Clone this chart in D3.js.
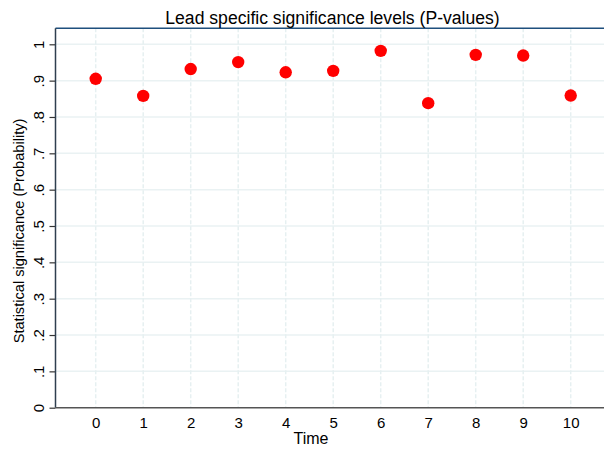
<!DOCTYPE html>
<html><head><meta charset="utf-8">
<script src="https://cdn.jsdelivr.net/npm/d3@7"></script>
<style>body{margin:0;background:#fff;}svg{display:block;font-family:"Liberation Sans",Arial,sans-serif;}</style>
</head><body>
<script>
const times = [0,1,2,3,4,5,6,7,8,9,10];
const pValues = [0.905,0.858,0.932,0.951,0.923,0.927,0.982,0.838,0.971,0.969,0.859];
const yTicks = [0,0.1,0.2,0.3,0.4,0.5,0.6,0.7,0.8,0.9,1];
const yTickLabels = ["0",".1",".2",".3",".4",".5",".6",".7",".8",".9","1"];
const xTickLabels = ["0","1","2","3","4","5","6","7","8","9","10"];
const title = "Lead specific significance levels (P-values)";
const xTitle = "Time";
const yTitle = "Statistical significance (Probability)";

(function(){
const W=604,H=449;
const svg=d3.select("body").append("svg").attr("width",W).attr("height",H);
const pL=55.5, pR=604, pT=28.3, pB=407.7;
const x=d3.scaleLinear().domain([0,10]).range([95.7,570.7]);
const y=d3.scaleLinear().domain([0,1]).range([pB,44.3]);

// gridlines
svg.append("g").selectAll("line").data(yTicks.filter(d=>d>0)).join("line")
 .attr("x1",pL).attr("x2",pR).attr("y1",d=>y(d)).attr("y2",d=>y(d))
 .attr("stroke","#eaf2f3").attr("stroke-width",1.5);
svg.append("g").selectAll("line").data(times).join("line")
 .attr("x1",d=>x(d)).attr("x2",d=>x(d)).attr("y1",pT).attr("y2",pB)
 .attr("stroke","#e6f0f1").attr("stroke-width",1.5).attr("stroke-dasharray","4,2");

// top border
svg.append("line").attr("x1",pL).attr("x2",pR).attr("y1",pT).attr("y2",pT)
 .attr("stroke","#1e4f7d").attr("stroke-width",1.5);

// y axis
const yAxis=d3.axisLeft(y).tickValues(yTicks).tickFormat((d,i)=>yTickLabels[i]).tickSize(6).tickPadding(6);
const ga=svg.append("g").attr("transform",`translate(${pL},0)`).call(yAxis);
ga.select(".domain").remove();
ga.selectAll(".tick line").attr("stroke","#333").attr("stroke-width",1.2);
ga.selectAll(".tick text").attr("font-size",15).attr("fill","#000")
 .attr("text-anchor","middle").attr("dy",null).attr("x",null)
 .attr("transform","translate(-17,0) rotate(-90)").attr("dominant-baseline","central");
svg.append("line").attr("x1",pL).attr("x2",pL).attr("y1",pT).attr("y2",pB)
 .attr("stroke","#2f3f4f").attr("stroke-width",1.5);

// x axis
const xAxis=d3.axisBottom(x).tickValues(times).tickFormat((d,i)=>xTickLabels[i]).tickSize(0).tickPadding(10);
const gx=svg.append("g").attr("transform",`translate(0,${pB})`).call(xAxis);
gx.select(".domain").remove();
gx.selectAll(".tick text").attr("font-size",15).attr("fill","#000");
svg.append("line").attr("x1",pL).attr("x2",pR).attr("y1",pB).attr("y2",pB)
 .attr("stroke","#555").attr("stroke-width",1.5);

// points
svg.append("g").selectAll("circle").data(times).join("circle")
 .attr("cx",d=>x(d)).attr("cy",(d,i)=>y(pValues[i])).attr("r",6.2).attr("fill","#ff0000");

// titles
svg.append("text").attr("x",332.5).attr("y",24).attr("text-anchor","middle").attr("font-size",17.6).text(title);
svg.append("text").attr("x",311).attr("y",444).attr("text-anchor","middle").attr("font-size",16).text(xTitle);
svg.append("text").attr("transform","translate(24,231) rotate(-90)").attr("text-anchor","middle").attr("font-size",14.6).text(yTitle);
})();
</script>
</body></html>
